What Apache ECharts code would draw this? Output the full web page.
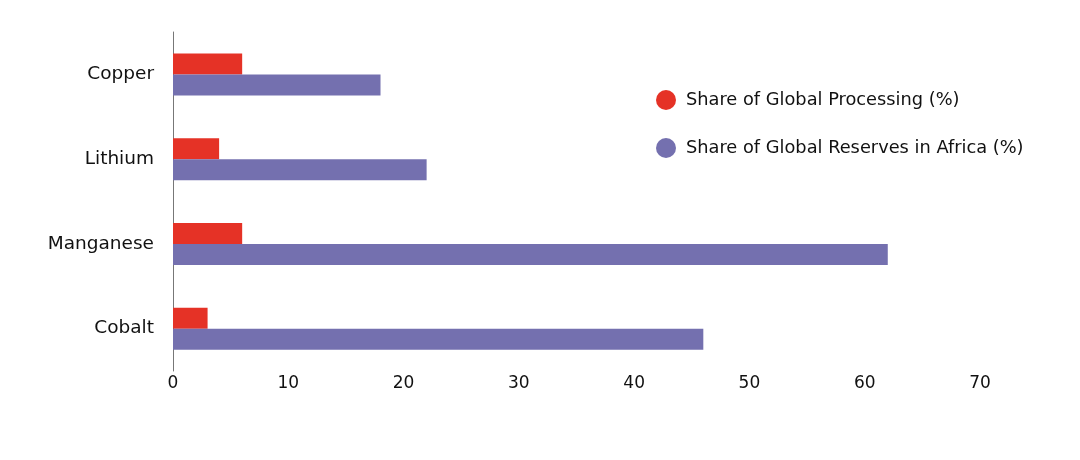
<!DOCTYPE html>
<html><head><meta charset="utf-8">
<script src="https://cdn.jsdelivr.net/npm/echarts@6/dist/echarts.min.js"></script>
<style>html,body{margin:0;padding:0;background:#fff}#c{width:1080px;height:460px}</style>
</head><body><div id="c"></div>
<script>
const categories = ['Copper', 'Lithium', 'Manganese', 'Cobalt'];
const processing = [6, 4, 6, 3];
const reserves = [18, 22, 62, 46];
const seriesNames = ['Share of Global Processing (%)', 'Share of Global Reserves in Africa (%)'];
const colors = ['#E53226', '#7470AF'];
const font = '"DejaVu Sans", sans-serif';

const chart = echarts.init(document.getElementById('c'));
chart.setOption({
  animation: false,
  textStyle: { fontFamily: font },
  grid: { left: 173, right: 100, top: 32, bottom: 89 },
  legend: {
    orient: 'vertical', left: 651, top: 85, itemGap: 28,
    icon: 'circle', itemWidth: 20, itemHeight: 20,
    textStyle: { fontFamily: font, fontSize: 17.8, color: '#111', padding: [0,0,0,5] },
    data: seriesNames
  },
  xAxis: {
    type: 'value', min: 0, max: 70, interval: 10,
    axisLine: { show: false }, axisTick: { show: false }, splitLine: { show: false },
    axisLabel: { fontFamily: font, fontSize: 17, color: '#111', margin: 4 }
  },
  yAxis: {
    type: 'category', data: categories, inverse: true,
    axisLine: { show: true, lineStyle: { color: '#777', width: 1 } },
    axisTick: { show: false },
    axisLabel: { fontFamily: font, fontSize: 18.5, color: '#111', margin: 19 }
  },
  series: [
    { name: seriesNames[0], type: 'bar', data: processing, barWidth: 21, barGap: '0%', itemStyle: { color: colors[0] } },
    { name: seriesNames[1], type: 'bar', data: reserves, barWidth: 21, barGap: '0%', itemStyle: { color: colors[1] } }
  ]
});
</script></body></html>
